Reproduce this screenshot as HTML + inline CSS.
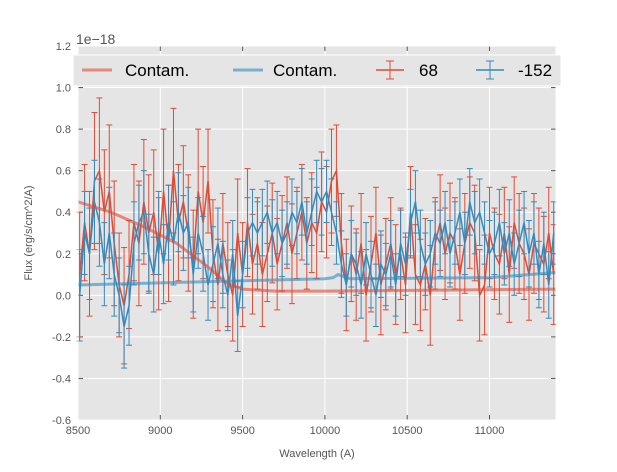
<!DOCTYPE html>
<html><head><meta charset="utf-8"><style>
body{margin:0;background:#fff;font-family:"Liberation Sans",sans-serif}
svg text{font-family:"Liberation Sans",sans-serif}
</style></head><body>
<svg id="c" width="617" height="467"></svg>
<script>
const wlStart = 8510, wlStep = 30;
const flux68 = [0.1,0.35,0.2,0.55,0.6,0.4,0.5, 0.25,0.05,-0.05,0.1,0.35,0.25,0.45, 0.3,0.4,0.2,0.5,0.25,0.6,0.35, 0.45,0.3,0.15,0.5,0.35,0.55,0.2, 0.05,0.25,0.1,0.0,0.3,0.1,0.35, 0.15,0.25,0.1,0.2,0.3,0.15,0.25, 0.35,0.2,0.3,0.4,0.25,0.35,0.3, 0.45,0.4,0.55,0.6,0.25,0.05,0.2, 0.1,0.25,0.0,0.15,0.3,0.05,0.15, 0.25,0.1,0.2,0.05,0.4,0.1,0.05, 0.15,0.0,0.25,0.35,0.2,0.3,0.25, 0.1,0.25,0.35,0.3,0.0,0.05,0.3, 0.2,0.15,0.3,0.1,0.35,0.25,0.2, 0.1,0.25,0.2,0.15,0.3,0.1];
const err68 = [0.3,0.28,0.3,0.33,0.35,0.3,0.32, 0.3,0.25,0.28,0.26,0.28,0.3,0.3, 0.28,0.3,0.27,0.3,0.28,0.3,0.28, 0.27,0.28,0.26,0.3,0.27,0.25,0.26, 0.22,0.24,0.25,0.22,0.26,0.25,0.26, 0.24,0.22,0.25,0.23,0.24,0.22,0.23, 0.22,0.24,0.22,0.23,0.22,0.24,0.22, 0.24,0.22,0.25,0.22,0.24,0.22,0.23, 0.22,0.24,0.22,0.23,0.22,0.24,0.22, 0.22,0.24,0.22,0.23,0.22,0.24,0.22, 0.22,0.24,0.22,0.23,0.22,0.24,0.22, 0.22,0.24,0.22,0.23,0.22,0.24,0.22, 0.22,0.24,0.22,0.23,0.22,0.24,0.22, 0.22,0.24,0.22,0.23,0.22,0.24];
const flux152 = [0.0,0.3,0.2,0.45,0.35,0.15,0.3, 0.1,0.0,-0.15,-0.05,0.25,0.35,0.4, 0.2,0.1,0.3,0.15,0.35,0.25,0.4, 0.3,0.35,0.1,0.3,0.2,0.05,0.15, 0.25,0.1,0.0,0.2,-0.1,0.1,0.3, 0.35,0.3,0.35,0.4,0.3,0.35,0.25, 0.3,0.4,0.35,0.45,0.3,0.4,0.5, 0.45,0.5,0.4,0.3,0.15,0.05,0.2, 0.15,0.05,0.2,0.1,0.0,0.15,0.1, 0.2,0.05,0.25,0.15,0.35,0.45,0.25, 0.15,0.2,0.3,0.25,0.35,0.2,0.3, 0.4,0.25,0.45,0.35,0.4,0.3,0.2, 0.25,0.35,0.2,0.3,0.15,0.25,0.35, 0.2,0.3,0.1,0.25,0.05,0.3];
const err152 = [0.22,0.2,0.22,0.2,0.21,0.2,0.22, 0.2,0.18,0.2,0.19,0.2,0.18,0.2, 0.19,0.18,0.2,0.19,0.18,0.2,0.19, 0.18,0.17,0.18,0.17,0.18,0.17,0.18, 0.17,0.16,0.17,0.16,0.17,0.16,0.17, 0.16,0.15,0.16,0.15,0.16,0.15,0.16, 0.15,0.16,0.15,0.16,0.15,0.16,0.15, 0.16,0.15,0.16,0.15,0.16,0.15,0.16, 0.15,0.16,0.15,0.16,0.15,0.16,0.15, 0.16,0.15,0.16,0.15,0.16,0.15,0.16, 0.15,0.16,0.15,0.16,0.15,0.16,0.15, 0.16,0.15,0.16,0.15,0.16,0.15,0.16, 0.15,0.16,0.15,0.16,0.15,0.16,0.15, 0.16,0.15,0.16,0.15,0.16,0.15];
const contamRedX = [8500,8700,8900,9100,9300,9400,9500,9700,10000,11400];
const contamRedY = [0.45,0.4,0.33,0.25,0.13,0.06,0.03,0.02,0.02,0.03];
const contamBlueX = [8500,9000,9500,10000,10050,10080,10150,11000,11400];
const contamBlueY = [0.05,0.06,0.07,0.08,0.085,0.1,0.08,0.085,0.11];
const xTicks = [8500,9000,9500,10000,10500,11000];
const yTicks = [-0.6,-0.4,-0.2,0.0,0.2,0.4,0.6,0.8,1.0,1.2];

const L=78,R=556,T=46,B=420, xmin=8500,xmax=11404,ymin=-0.6,ymax=1.2;
const X=v=>L+(v-xmin)/(xmax-xmin)*(R-L);
const Y=v=>B-(v-ymin)/(ymax-ymin)*(B-T);
const svg=document.getElementById('c');const NS='http://www.w3.org/2000/svg';
function mk(t,a,p){const e=document.createElementNS(NS,t);for(const k in a)e.setAttribute(k,a[k]);(p||svg).appendChild(e);return e;}
const bg=mk('rect',{x:L,y:T,width:R-L,height:B-T,fill:'#E5E5E5'});


xTicks.forEach(v=>{
 const g=mk('line',{x1:X(v),x2:X(v),y1:T,y2:B,stroke:'#fff','stroke-width':1});
 
 
 mk('line',{x1:X(v),x2:X(v),y1:B,y2:B-5,stroke:'#555'});
 mk('line',{x1:X(v),x2:X(v),y1:T,y2:T+5,stroke:'#555'});
 const t=mk('text',{x:X(v),y:B+14,'font-size':11,fill:'#555','text-anchor':'middle'});t.textContent=v;
 
 
});
yTicks.forEach(v=>{
 const g=mk('line',{x1:L,x2:R,y1:Y(v),y2:Y(v),stroke:'#fff','stroke-width':1});
 
 
 mk('line',{x1:L,x2:L+5,y1:Y(v),y2:Y(v),stroke:'#555'});
 mk('line',{x1:R,x2:R-5,y1:Y(v),y2:Y(v),stroke:'#555'});
 const t=mk('text',{x:L-7,y:Y(v)+4,'font-size':11,fill:'#555','text-anchor':'end'});t.textContent=v.toFixed(1);
 
 
});
function series(flux,err,col,name){
 const g=mk('g',{});
 
 
 flux.forEach((f,i)=>{const x=X(wlStart+i*wlStep),y1=Y(f-err[i]),y2=Y(f+err[i]);
  mk('line',{x1:x,x2:x,y1:y1,y2:y2,stroke:col,'stroke-width':1},g);
  mk('line',{x1:x-3,x2:x+3,y1:y1,y2:y1,stroke:col,'stroke-width':1},g);
  mk('line',{x1:x-3,x2:x+3,y1:y2,y2:y2,stroke:col,'stroke-width':1},g);});
 mk('polyline',{points:flux.map((f,i)=>X(wlStart+i*wlStep)+','+Y(f)).join(' '),fill:'none',stroke:col,'stroke-width':1.5},g);
}
series(flux68,err68,'#E24A33','series-68');
series(flux152,err152,'#348ABD','series-152');
const c1=mk('polyline',{points:contamRedX.map((x,i)=>X(x)+','+Y(contamRedY[i])).join(' '),fill:'none',stroke:'#E24A33','stroke-opacity':0.6,'stroke-width':3});


const c2=mk('polyline',{points:contamBlueX.map((x,i)=>X(x)+','+Y(contamBlueY[i])).join(' '),fill:'none',stroke:'#348ABD','stroke-opacity':0.6,'stroke-width':3});


const fr=mk('rect',{x:L,y:T,width:R-L,height:B-T,fill:'none',stroke:'#fff','stroke-width':1});
// legend
const lg=mk('g',{});


mk('rect',{x:73,y:55,width:488,height:31,fill:'#E5E5E5',stroke:'#fff'},lg);
mk('line',{x1:82,x2:112,y1:70,y2:70,stroke:'#E24A33','stroke-opacity':0.6,'stroke-width':3},lg);
mk('line',{x1:233,x2:263,y1:70,y2:70,stroke:'#348ABD','stroke-opacity':0.6,'stroke-width':3},lg);
[[376,'#E24A33'],[476,'#348ABD']].forEach(([x,c])=>{
 mk('line',{x1:x,x2:x+28,y1:70,y2:70,stroke:c,'stroke-width':1.5},lg);
 mk('line',{x1:x+14,x2:x+14,y1:61,y2:79,stroke:c},lg);
 mk('line',{x1:x+10,x2:x+18,y1:61,y2:61,stroke:c},lg);
 mk('line',{x1:x+10,x2:x+18,y1:79,y2:79,stroke:c},lg);});
[[125,'Contam.'],[273,'Contam.'],[419,'68'],[518,'-152']].forEach(([x,s])=>{
 const t=mk('text',{x:x,y:76,'font-size':17,fill:'#000'},lg);t.textContent=s;
 
 });
const off=mk('text',{x:76,y:44,'font-size':14,fill:'#555'});off.textContent='1e\u221218';


const xl=mk('text',{x:317,y:457,'font-size':11,fill:'#555','text-anchor':'middle'});xl.textContent='Wavelength (A)';


const yl=mk('text',{x:32,y:233,'font-size':11,fill:'#555','text-anchor':'middle',transform:'rotate(-90 32 233)'});yl.textContent='Flux (erg/s/cm^2/A)';


</script>
</body></html>
